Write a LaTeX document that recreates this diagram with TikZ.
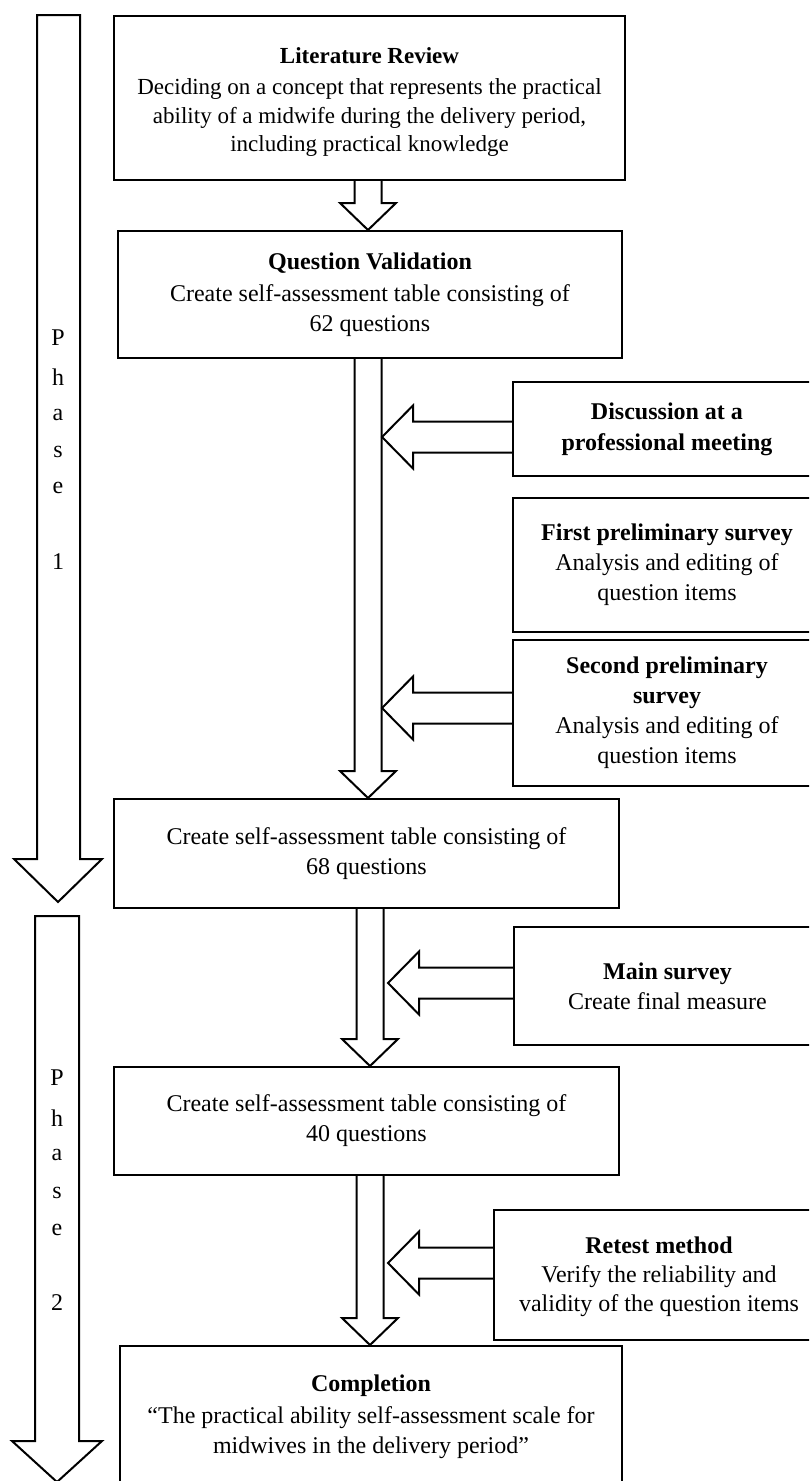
\documentclass[tikz,border=0pt]{standalone}
\usepackage{fontspec}
\setmainfont{Liberation Serif}
\usetikzlibrary{calc}
\tikzset{
  box/.style={draw, line width=2pt, inner sep=0pt, align=center, anchor=north west,
              font=\fontsize{24}{30}\selectfont},
  txt/.style={inner sep=0pt, align=center},
  blk/.style={draw, line width=2pt, line join=miter},
  phaselbl/.style={font=\fontsize{24}{26}\selectfont, inner sep=0pt},
}
\newcommand{\vblock}[3]{\draw[blk] let \p1=(#1), \p3=(#3) in
  (#2pt-13.5pt,\y1) -- (#2pt-13.5pt,\y3+27pt) -- (#2pt-28pt,\y3+27pt) -- (#2pt,\y3)
  -- (#2pt+28pt,\y3+27pt) -- (#2pt+13.5pt,\y3+27pt) -- (#2pt+13.5pt,\y1);}
\newcommand{\hblock}[2]{\draw[blk] let \p1=(#1), \p2=(#2) in
  (\x1,\y2+15.5pt) -- (\x2+31pt,\y2+15.5pt) -- (\x2+31pt,\y2+31.5pt) -- (\x2,\y2)
  -- (\x2+31pt,\y2-31.5pt) -- (\x2+31pt,\y2-15.5pt) -- (\x1,\y2-15.5pt);}
\begin{document}
\begin{tikzpicture}[x=1pt,y=-1pt]
\useasboundingbox (0,0) rectangle (809,1481);
\clip (0,0) rectangle (809,1481);

% phase arrows
\draw[blk] (37,15) -- (37,859) -- (14,859) -- (58,902) -- (102,859) -- (80,859) -- (80,15) -- cycle;
\draw[blk] (35,916) -- (35,1441) -- (12,1441) -- (57,1482) -- (102,1441) -- (79,1441) -- (79,916) -- cycle;
\foreach \ch/\yy [count=\i] in {P/338,h/377,a/415,s/452,e/488,1/562}
  \node[phaselbl] (pa\i) at (58,\yy) {\ch};
\foreach \ch/\yy [count=\i] in {P/1078,h/1118,a/1155,s/1193,e/1230,2/1303}
  \node[phaselbl] (pb\i) at (57,\yy) {\ch};

% main column boxes
\node[box, minimum width=511pt, minimum height=164pt] (b1) at (113,15) {};
\node[txt, font=\fontsize{23}{28.5}\selectfont] (b1t) at ($(b1.center)+(0,4)$)
  {\textbf{Literature Review}\\[3pt]Deciding on a concept that represents the practical\\ability of a midwife during the delivery period,\\including practical knowledge};
\node[box, minimum width=504pt, minimum height=127pt] (b2) at (117,230)
  {\textbf{Question Validation}\\[2pt]Create self-assessment table consisting of\\62 questions};
\node[box, minimum width=505pt, minimum height=109pt] (b3) at (113,798)
  {Create self-assessment table consisting of\\68 questions};
\node[box, minimum width=505pt, minimum height=108pt] (b4) at (113,1066)
  {Create self-assessment table consisting of\\40 questions};
\node[box, minimum width=502pt, minimum height=142pt] (b5) at (119,1345)
  {\textbf{Completion}\\[2pt]“The practical ability self-assessment scale for\\midwives in the delivery period”};

% side boxes
\node[box, minimum width=308pt, minimum height=94pt] (d1) at (512,381)
  {\textbf{Discussion at a}\\[1pt]\textbf{professional meeting}};
\node[box, minimum width=308pt, minimum height=134pt] (d2) at (512,497)
  {\textbf{First preliminary survey}\\Analysis and editing of\\question items};
\node[box, minimum width=308pt, minimum height=146pt] (d3) at (512,639)
  {\textbf{Second preliminary}\\\textbf{survey}\\Analysis and editing of\\question items};
\node[box, minimum width=307pt, minimum height=118pt] (m1) at (513,926)
  {\textbf{Main survey}\\Create final measure};
\node[box, minimum width=330pt, minimum height=130pt] (r1) at (493,1209) {};
\node[txt, font=\fontsize{24}{29}\selectfont] (r1t) at ($(r1.center)+(0,2)$)
  {\textbf{Retest method}\\Verify the reliability and\\validity of the question items};

% vertical block arrows
\vblock{b1.south}{368}{b2.north}
\vblock{b2.south}{368}{b3.north}
\vblock{b3.south}{370}{b4.north}
\vblock{b4.south}{370}{b5.north}

% horizontal block arrows
\coordinate (t1) at (382,437);
\coordinate (t2) at (382,708);
\coordinate (t3) at (388,983);
\coordinate (t4) at (388,1263);
\hblock{d1.west}{t1}
\hblock{d3.west}{t2}
\hblock{m1.west}{t3}
\hblock{r1.west}{t4}
\end{tikzpicture}
\end{document}
